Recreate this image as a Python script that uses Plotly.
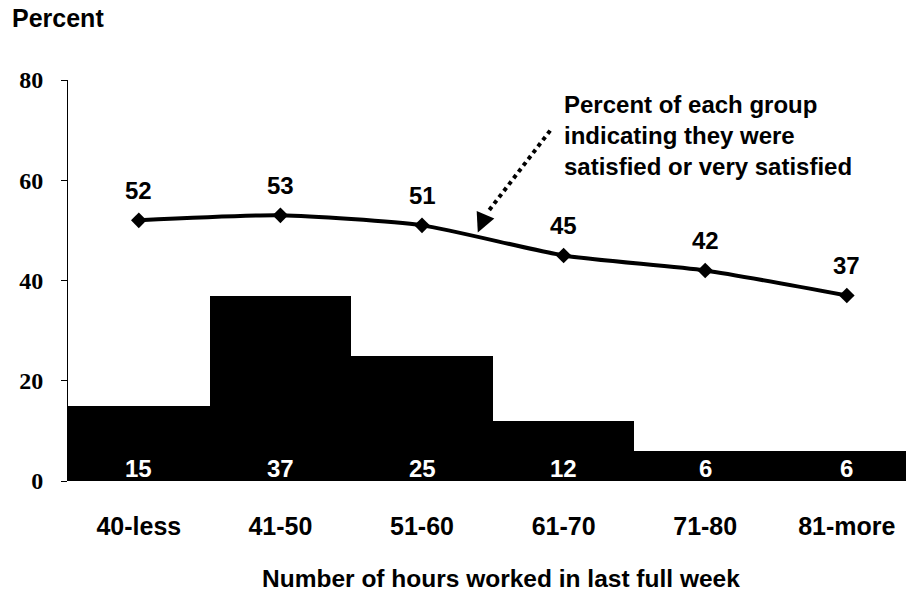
import plotly.graph_objects as go

categories = ["40-less", "41-50", "51-60", "61-70", "71-80", "81-more"]
share_pct = [15, 37, 25, 12, 6, 6]
satisfied_pct = [52, 53, 51, 45, 42, 37]
y_ticks = [0, 20, 40, 60, 80]

FONT = "Liberation Sans, Arial, sans-serif"
xs = list(range(len(categories)))

fig = go.Figure()
fig.add_trace(go.Bar(
    x=xs, y=share_pct, width=1.0,
    marker=dict(color="black", line=dict(width=0)),
    showlegend=False, hoverinfo="skip",
))
fig.add_trace(go.Scatter(
    x=xs, y=satisfied_pct, mode="lines+markers",
    line=dict(color="black", width=4, shape="spline", smoothing=0.6),
    marker=dict(symbol="diamond", size=12, color="black"),
    showlegend=False,
))

for xi, v in zip(xs, share_pct):
    fig.add_annotation(x=xi, y=0, text=str(v), showarrow=False, yanchor="middle", yshift=13,
                       font=dict(family=FONT, size=24, color="white", weight="bold"))

for xi, v in zip(xs, satisfied_pct):
    fig.add_annotation(x=xi, y=v, text=str(v), showarrow=False, yshift=30,
                       font=dict(family=FONT, size=24, color="black", weight="bold"))

# annotation text
fig.add_annotation(
    x=2.99, y=69.0, xref="x", yref="y", xanchor="left", yanchor="middle", align="left",
    text="Percent of each group<br>indicating they were<br>satisfied or very satisfied",
    showarrow=False, font=dict(family=FONT, size=24, color="black", weight="bold"),
)
# dotted arrow body
fig.add_shape(type="line", xref="x", yref="y", x0=2.905, y0=69.9, x1=2.46, y1=53.5,
              line=dict(color="black", width=4, dash="dot"))
# arrow head
fig.add_annotation(x=2.394, y=49.6, ax=2.445, ay=52.9, xref="x", yref="y", axref="x", ayref="y",
                   text="", showarrow=True, arrowhead=2, arrowsize=1.1, arrowwidth=3.5, arrowcolor="black")

fig.add_annotation(x=-0.069, y=1.0, xref="paper", yref="paper", text="Percent", showarrow=False,
                   xanchor="left", yanchor="middle", yshift=62,
                   font=dict(family=FONT, size=25, color="black", weight="bold"))

fig.add_annotation(x=0.5, y=0, xref="paper", yref="paper", yanchor="middle", yshift=-97, xshift=14,
                   text="Number of hours worked in last full week", showarrow=False,
                   font=dict(family=FONT, size=24.5, color="black", weight="bold"))

fig.update_layout(
    width=906, height=594,
    margin=dict(l=68, r=0, t=80, b=113),
    paper_bgcolor="white", plot_bgcolor="white",
    bargap=0,
    xaxis=dict(
        range=[-0.5, 5.418], tickmode="array", tickvals=xs, ticktext=categories,
        showgrid=False, zeroline=False, showline=False, automargin=False,
        ticks="", ticklabelstandoff=28,
        tickfont=dict(family=FONT, size=25, color="black", weight="bold"),
    ),
    yaxis=dict(
        range=[0, 80], tickmode="array", tickvals=y_ticks,
        showgrid=False, zeroline=False, showline=True, linecolor="black", linewidth=1,
        ticks="outside", ticklen=6, tickcolor="black", ticklabelstandoff=13, automargin=False,
        tickfont=dict(family="Liberation Serif, Times New Roman, serif", size=24, color="black", weight="bold"),
    ),
)

fig.write_html("out.html", config={"displayModeBar": False},
               post_script="document.body.style.margin='0';document.body.style.overflow='hidden';")
